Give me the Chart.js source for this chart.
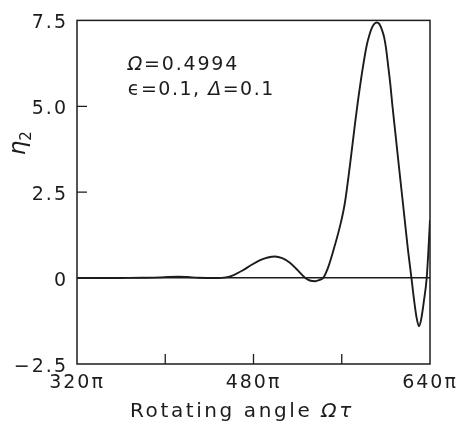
<!DOCTYPE html>
<html>
<head>
<meta charset="utf-8">
<script src="https://cdn.jsdelivr.net/npm/chart.js@4.4.1/dist/chart.umd.min.js"></script>
<style>
  html, body { margin: 0; padding: 0; background: #fff; }
  #wrap { width: 469px; height: 427px; position: relative; }
</style>
</head>
<body>
<div id="wrap"><canvas id="c"></canvas></div>
<script>
// Rotating angle Ωτ, in units of π
const angle = [320, 340, 360, 380, 395, 403, 412, 420, 430, 445, 455, 462, 470, 478, 486, 493, 499.5, 506, 513, 520, 527, 531, 536, 540, 543, 547.5, 552.1, 559.3, 562.9, 567.5, 572, 574.3, 578.5, 582.6, 585, 587.4, 589.5, 591.7, 594, 596.5, 598.5, 600.1, 602, 604, 605.8, 607.7, 611, 613, 615.4, 617.3, 620, 623.2, 625.5, 628, 630, 632, 634.5, 637, 638.5, 640];
// Response η2
const eta2 = [0, 0, 0.005, 0.01, 0.02, 0.035, 0.04, 0.03, 0.01, 0, 0.02, 0.09, 0.22, 0.38, 0.52, 0.6, 0.63, 0.58, 0.45, 0.23, 0.0, -0.07, -0.09, -0.05, 0.0, 0.3, 0.77, 1.63, 2.2, 3.3, 4.49, 5.06, 6.0, 6.77, 7.07, 7.29, 7.4, 7.44, 7.4, 7.22, 7.0, 6.7, 6.2, 5.65, 5.06, 4.49, 3.5, 2.9, 2.2, 1.63, 0.83, 0, -0.62, -1.18, -1.4, -1.2, -0.66, 0, 0.77, 1.7];

const xTicks = [320, 400, 480, 560, 640];
const xTickLabels = ['320π', '', '480π', '', '640π'];
const yTicks = [-2.5, 0, 2.5, 5, 7.5];
const yTickLabels = ['−2.5', '0', '2.5', '5.0', '7.5'];

// Parameter text: [text, italic]
const paramLine1 = [['Ω', true], ['=0.4994', false]];
const paramLine2 = [['ϵ', false], ['=0.1, ', false], ['Δ', true], ['=0.1', false]];
const paramAt = { x: 366, y1: 6.2, y2: 5.47 };

const FONT = '"DejaVu Sans", sans-serif';
const INK = '#1c1c1c';

function drawRuns(ctx, runs, x, y, size, spacing) {
  ctx.textAlign = 'left';
  ctx.textBaseline = 'middle';
  ctx.letterSpacing = spacing + 'px';
  for (const [t, it] of runs) {
    ctx.font = (it ? 'italic ' : '') + size + 'px ' + FONT;
    ctx.fillText(t, x, y);
    x += ctx.measureText(t).width;
  }
  return x;
}

const decorations = {
  id: 'decorations',
  beforeDraw(chart) {
    chart.ctx.letterSpacing = '2px';
  },
  afterDraw(chart) {
    const { ctx, chartArea: a, scales } = chart;
    const xs = scales.x, ys = scales.y;
    ctx.save();
    ctx.strokeStyle = INK;
    ctx.fillStyle = INK;
    // frame
    ctx.lineWidth = 1.5;
    ctx.strokeRect(a.left, a.top, a.right - a.left, a.bottom - a.top);
    // inward tick marks
    ctx.lineWidth = 1.3;
    ctx.beginPath();
    xTicks.slice(1, -1).forEach(v => {
      const p = xs.getPixelForValue(v);
      ctx.moveTo(p, a.bottom);
      ctx.lineTo(p, a.bottom - 10);
    });
    [2.5, 5].forEach(v => {
      const p = ys.getPixelForValue(v);
      ctx.moveTo(a.left, p);
      ctx.lineTo(a.left + 10, p);
    });
    ctx.stroke();

    // parameter text
    const px = xs.getPixelForValue(paramAt.x);
    drawRuns(ctx, paramLine1, px, ys.getPixelForValue(paramAt.y1), 19, 1.8);
    drawRuns(ctx, paramLine2, px, ys.getPixelForValue(paramAt.y2), 19, 1.5);

    // x axis title
    drawRuns(ctx, [['Rotating angle ', false], ['Ωτ', true]], a.left + 53, 412, 20, 2.6);

    // y axis title η2 (rotated)
    ctx.save();
    ctx.translate(21, 144);
    ctx.rotate(-Math.PI / 2);
    ctx.letterSpacing = '0px';
    ctx.textBaseline = 'middle';
    ctx.textAlign = 'left';
    ctx.font = 'italic 23px ' + FONT;
    const w = ctx.measureText('η').width;
    ctx.fillText('η', -w / 2 - 4, -2);
    ctx.font = '15px ' + FONT;
    ctx.fillText('2', w / 2 - 4, 6);
    ctx.restore();

    ctx.restore();
  }
};

new Chart(document.getElementById('c'), {
  type: 'line',
  data: {
    datasets: [{
      data: angle.map((x, i) => ({ x, y: eta2[i] })),
      borderColor: INK,
      borderWidth: 1.9,
      pointRadius: 0,
      cubicInterpolationMode: 'monotone',
      fill: false
    }]
  },
  options: {
    responsive: true,
    maintainAspectRatio: false,
    animation: false,
    layout: { padding: { left: 0, right: 39, top: 14, bottom: 0 } },
    plugins: { legend: { display: false }, tooltip: { enabled: false } },
    scales: {
      x: {
        type: 'linear',
        min: 320, max: 640,
        afterBuildTicks: s => { s.ticks = xTicks.map(v => ({ value: v })); },
        afterFit: s => { s.height = 63; },
        grid: { display: false },
        border: { display: false },
        ticks: {
          color: INK,
          font: { family: FONT, size: 19 },
          padding: 0,
          maxRotation: 0,
          autoSkip: false,
          callback: (v) => xTickLabels[xTicks.indexOf(v)] ?? ''
        }
      },
      y: {
        type: 'linear',
        min: -2.5, max: 7.5,
        afterBuildTicks: s => { s.ticks = yTicks.map(v => ({ value: v })); },
        afterFit: s => { s.width = 77; },
        grid: {
          drawTicks: false,
          color: c => (c.tick && c.tick.value === 0 ? INK : 'rgba(0,0,0,0)'),
          lineWidth: 1.5
        },
        border: { display: false },
        ticks: {
          color: INK,
          font: { family: FONT, size: 19 },
          padding: 9,
          labelOffset: 3,
          autoSkip: false,
          callback: (v) => yTickLabels[yTicks.indexOf(v)] ?? ''
        }
      }
    }
  },
  plugins: [decorations]
});
</script>
</body>
</html>
